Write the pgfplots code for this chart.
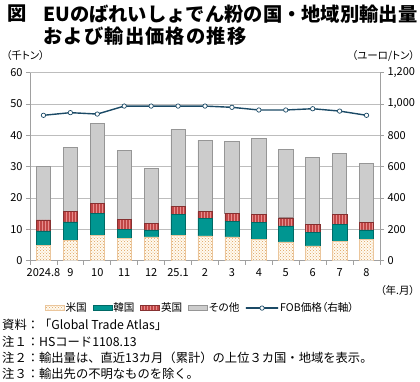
\documentclass[border=0pt]{standalone}
\usepackage{fontspec}
\setmainfont{Noto Sans CJK JP}
\newfontfamily\paltfont[RawFeature=+palt]{Noto Sans CJK JP}
\usepackage{pgfplots}
\pgfplotsset{compat=1.18}
\usetikzlibrary{patterns}
\definecolor{usdot}{RGB}{222,160,90}
\definecolor{usfill}{RGB}{255,250,240}
\definecolor{krteal}{RGB}{0,150,145}
\definecolor{ukred}{RGB}{192,70,70}
\definecolor{ukstripe}{RGB}{232,140,140}
\definecolor{othgray}{RGB}{204,204,204}
\definecolor{othedge}{RGB}{150,150,150}
\definecolor{fobline}{RGB}{27,74,102}
\definecolor{axgray}{RGB}{160,160,160}
\pgfplotsset{
  barlegend/.style={legend image code/.code={\draw[##1] (0pt,-2.5pt) rectangle (19pt,2.5pt);}},
  linelegend/.style={legend image code/.code={\draw[mark repeat=2,mark phase=2,##1] plot coordinates {(0pt,0pt)(9pt,0pt)(18pt,0pt)};}},
}
\begin{document}
\begin{tikzpicture}[x=1pt,y=1pt]
\useasboundingbox (0,0) rectangle (420,381);
% titles
\node[anchor=west,inner sep=0] at (7,367) {\fontsize{19.3}{22}\selectfont\bfseries 図};
\node[anchor=west,inner sep=0] at (43,367) {\fontsize{19.3}{22}\selectfont\bfseries EUのばれいしょでん粉の国・地域別輸出量};
\node[anchor=west,inner sep=0] at (43,345) {\fontsize{19.3}{22}\selectfont\bfseries\addfontfeature{LetterSpace=6}および輸出価格の推移};
\node[anchor=west,inner sep=0] at (6,325) {\paltfont\fontsize{10.5}{12}\selectfont （千トン）};
\node[anchor=east,inner sep=0] at (415,325) {\paltfont\fontsize{10.5}{12}\selectfont （ユーロ/トン）};
\node[anchor=east,inner sep=0] at (415,90) {\paltfont\fontsize{10.5}{12}\selectfont （年.月）};
% notes
\node[anchor=west,inner sep=0] at (2,56) {\fontsize{12.3}{14}\selectfont 資料：「Global Trade Atlas」};
\node[anchor=west,inner sep=0] at (2,39.5) {\fontsize{12.3}{14}\selectfont 注１：HSコード1108.13};
\node[anchor=west,inner sep=0] at (2,23) {\fontsize{12.3}{14}\selectfont 注２：輸出量は、直近13カ月（累計）の上位３カ国・地域を表示。};
\node[anchor=west,inner sep=0] at (2,7) {\fontsize{12.3}{14}\selectfont 注３：輸出先の不明なものを除く。};

\begin{axis}[
  at={(30pt,120.3pt)}, anchor=south west,
  scale only axis, width=350pt, height=188pt,
  ybar stacked, bar width=14.3pt,
  xmin=-0.5, xmax=12.5, ymin=0, ymax=60,
  ytick={0,10,...,60},
  xtick={0,...,12},
  xticklabels={2024.8,9,10,11,12,25.1,2,3,4,5,6,7,8},
  minor xtick={-0.5,0.5,...,12.5},
  major x tick style={draw=none},
  minor x tick style={draw=axgray,line width=0.8pt},
  minor tick length=4pt,
  major tick length=4pt,
  tick align=outside,
  ytick style={draw=axgray,line width=0.8pt},
  axis x line*=bottom, axis y line*=left,
  axis line style={draw=axgray,line width=0.9pt,-},
  ymajorgrids, grid style={draw=axgray!70,line width=0.8pt},
  tick label style={font=\fontsize{11}{13}\selectfont},
  /pgf/number format/assume math mode=true,
  legend style={at={(0.485,-0.252)}, anchor=center, draw=none, fill=none,
    legend columns=5, font=\paltfont\fontsize{10.6}{12}\selectfont,
    nodes={inner sep=0.8pt},
    /tikz/every odd column/.append style={column sep=0.5pt},
    /tikz/every even column/.append style={column sep=5pt}},
  legend cell align=left,
]
\addplot[fill=usfill, draw=usdot!60, line width=0.4pt, postaction={pattern=crosshatch dots, pattern color=usdot}, barlegend]
 coordinates {(0,5.0)(1,6.4)(2,8.2)(3,7.2)(4,7.6)(5,8.1)(6,7.9)(7,7.6)(8,6.8)(9,6.0)(10,4.7)(11,6.1)(12,6.9)};
\addplot[fill=krteal, draw=krteal!70!black, line width=0.4pt, barlegend]
 coordinates {(0,4.5)(1,6.0)(2,7.0)(3,2.8)(4,2.2)(5,6.7)(6,5.6)(7,5.0)(8,5.4)(9,5.1)(10,4.3)(11,5.6)(12,2.9)};
\addplot[fill=ukred, draw=ukred!70!black, line width=0.4pt, postaction={pattern=vertical lines, pattern color=ukstripe}, barlegend]
 coordinates {(0,3.5)(1,3.3)(2,3.2)(3,3.2)(4,2.1)(5,2.6)(6,2.2)(7,2.6)(8,2.6)(9,2.6)(10,2.7)(11,3.1)(12,2.5)};
\addplot[fill=othgray, draw=othedge, line width=0.7pt, barlegend]
 coordinates {(0,17.0)(1,20.4)(2,25.4)(3,21.9)(4,17.5)(5,24.5)(6,22.8)(7,23.0)(8,24.3)(9,21.8)(10,21.2)(11,19.5)(12,18.8)};
\addlegendimage{linelegend, color=fobline, line width=1.4pt, mark=*, mark size=2.2pt, mark options={fill=white,draw=fobline,line width=0.7pt}}
\legend{米国,韓国,英国,その他,FOB価格（右軸）}
\end{axis}

\begin{axis}[
  at={(30pt,120.3pt)}, anchor=south west,
  scale only axis, width=350pt, height=188pt,
  xmin=-0.5, xmax=12.5, ymin=0, ymax=1200,
  ytick={0,200,...,1200},
  axis x line=none, axis y line*=right,
  axis line style={draw=axgray,line width=0.9pt,-},
  tick align=outside, major tick length=4pt,
  ytick style={draw=axgray,line width=0.8pt},
  tick label style={font=\fontsize{11}{13}\selectfont},
  yticklabel style={/pgf/number format/.cd, 1000 sep={,}, assume math mode=true},
  /pgf/number format/assume math mode=true,
]
\addplot[color=fobline, line width=1.4pt, mark=*, mark size=2.2pt, mark options={fill=white,draw=fobline,line width=0.7pt}]
 coordinates {(0,928)(1,945)(2,936)(3,987)(4,987)(5,987)(6,987)(7,979)(8,962)(9,962)(10,970)(11,955)(12,928)};
\end{axis}
\end{tikzpicture}
\end{document}
